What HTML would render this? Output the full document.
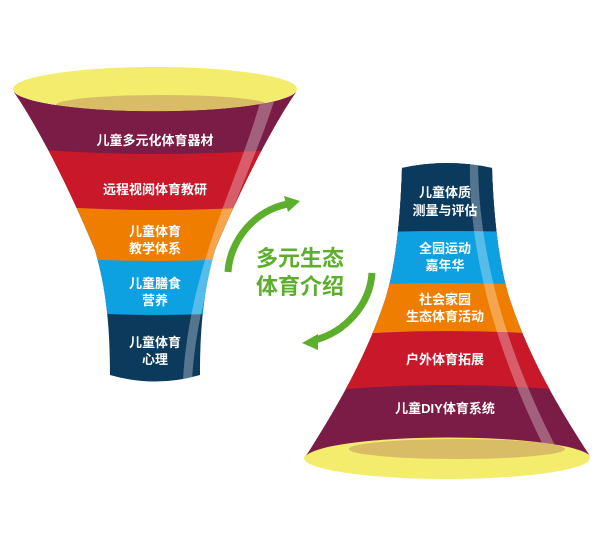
<!DOCTYPE html>
<html><head><meta charset="utf-8"><style>
html,body{margin:0;padding:0;background:#fff;width:601px;height:546px;overflow:hidden}
text{font-family:"Liberation Sans","Noto Sans CJK SC",sans-serif;font-weight:bold}
</style></head><body>
<svg width="601" height="546" viewBox="0 0 601 546" xmlns="http://www.w3.org/2000/svg">
<defs>
<clipPath id="lf"><path d="M14,92 A142,22 0 0 0 296,92 C270,130 240,190 215,250 C205,285 200,320 200,375 Q155,388 110,375 C110,320 105,285 95,250 C70,190 40,130 14,92 Z"/></clipPath>
<clipPath id="rf"><path d="M402,168 C401,200 398,260 385,300 C365,360 335,410 306,456 A143,21 0 0 1 590,456 C560,410 530,360 510,300 C497,260 493,200 492,168 Q447,158 402,168 Z"/></clipPath>
</defs>
<ellipse cx="155" cy="89" rx="142" ry="22" fill="#f3ec6c"/>
<ellipse cx="162" cy="105" rx="106" ry="10" fill="#d9bc66"/>
<g clip-path="url(#lf)">
<rect x="0" y="60" width="320" height="340" fill="#0b3a5c"/>
<path d="M0,60 H320 V305 Q155,325 0,305 Z" fill="#0ea1e2"/>
<path d="M0,60 H320 V252 Q155,270 0,252 Z" fill="#ef7e00"/>
<path d="M0,60 H320 V202 Q155,218 0,202 Z" fill="#c8182a"/>
<path d="M0,60 H320 V146 Q155,162 0,146 Z" fill="#7b1c46"/>
<path d="M262,95 L276,95 C250,180 200,260 192,380 L183,380 C190,260 240,180 262,95 Z" fill="#fff" opacity="0.3"/>
</g>
<g fill="#fff" font-size="13" text-anchor="middle">
<text x="155" y="145">儿童多元化体育器材</text>
<text x="155" y="194">远程视阅体育教研</text>
<text x="155" y="236">儿童体育</text><text x="155" y="253">教学体系</text>
<text x="155" y="288">儿童膳食</text><text x="155" y="305">营养</text>
<text x="155" y="347">儿童体育</text><text x="155" y="364">心理</text>
</g>
<ellipse cx="447" cy="458" rx="143" ry="21" fill="#f3ec6c"/>
<ellipse cx="457" cy="449" rx="108" ry="10" fill="#d9bc66"/>
<g clip-path="url(#rf)">
<rect x="290" y="150" width="320" height="340" fill="#7b1c46"/>
<path d="M290,150 H610 V395 Q447,375 290,395 Z" fill="#c8182a"/>
<path d="M290,150 H610 V340 Q447,322 290,340 Z" fill="#ef7e00"/>
<path d="M290,150 H610 V290 Q447,276 290,290 Z" fill="#0ea1e2"/>
<path d="M290,150 H610 V236 Q447,226 290,236 Z" fill="#0b3a5c"/>
<path d="M470,160 L478,160 C478,260 510,360 560,455 L548,455 C500,360 468,260 470,160 Z" fill="#fff" opacity="0.3"/>
</g>
<g fill="#fff" font-size="13" text-anchor="middle">
<text x="445" y="197">儿童体质</text><text x="445" y="215">测量与评估</text>
<text x="445" y="253">全园运动</text><text x="445" y="270">嘉年华</text>
<text x="445" y="304">社会家园</text><text x="445" y="321">生态体育活动</text>
<text x="445" y="364">户外体育拓展</text>
<text x="445" y="413">儿童DIY体育系统</text>
</g>
<path d="M228,272 C230,240 255,210 288,204" stroke="#5cae2c" stroke-width="7" fill="none"/>
<path d="M300,201 L284,196 L288,212 Z" fill="#5cae2c"/>
<path d="M372,273 C370,305 345,332 315,340" stroke="#5cae2c" stroke-width="7" fill="none"/>
<path d="M302,343 L318,334 L318,350 Z" fill="#5cae2c"/>
<g fill="#5cae2c" font-size="22" text-anchor="middle">
<text x="300" y="266">多元生态</text>
<text x="300" y="294">体育介绍</text>
</g>
</svg>
</body></html>
